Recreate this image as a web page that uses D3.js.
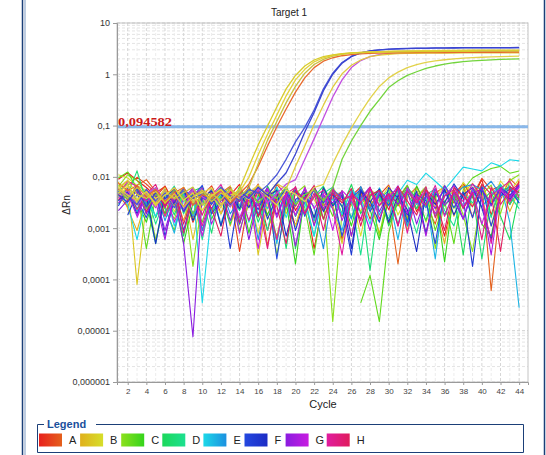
<!DOCTYPE html>
<html><head><meta charset="utf-8">
<script src="https://cdn.jsdelivr.net/npm/d3@7"></script>
<style>
html,body{margin:0;padding:0;background:#fff;}
svg{display:block;font-family:"Liberation Sans",Arial,sans-serif;}
</style></head>
<body>
<svg id="chart" width="546" height="455"></svg>
<script>
// ---------- DATA ----------
const cycles = [1,2,3,4,5,6,7,8,9,10,11,12,13,14,15,16,17,18,19,20,21,22,23,24,25,26,27,28,29,30,31,32,33,34,35,36,37,38,39,40,41,42,43,44];
const xTickLabels = [2,4,6,8,10,12,14,16,18,20,22,24,26,28,30,32,34,36,38,40,42,44];
const yTickValues = [10,1,0.1,0.01,0.001,0.0001,0.00001,0.000001];
const yTickLabels = ["10","1","0,1","0,01","0,001","0,0001","0,00001","0,000001"];
const threshold = 0.094582;
const thresholdLabel = "0,094582";
const legendWells = ["A","B","C","D","E","F","G","H"];

// noise (non-amplifying) wells
const nA1 = [.009,.012,.0085,.0062,.0041,.0066,.0028,.0047,.0013,.0035,.0058,.0019,.0044,.0071,.0026,.0052,.0009,.0038,.0061,.0022,.0046,.0004,.0033,.0055,.0017,.0042,.0064,.0027,.0049,.0012,.0036,.0068,.0021,.0053,.0031,.0007,.0045,.0074,.0039,.0088,.0018,.0062,.0034,.0079];
const nA2 = [null,.0068,.0098,.0072,.0049,.0065,.0033,.0056,.0016,.0043,.0067,.0028,.0051,.00035,.0039,.0062,.0024,.0071,.0045,.0011,.0037,.0058,.0022,.0048,.0006,.0034,.0053,.0015,.0044,.0069,.0027,.0057,.0036,.0008,.0049,.0063,.0031,.0076,.0042,.0094,.0055,.0067,.0029,.0085];
const nA3 = [.0045,.0026,.0069,.0088,.0052,.0019,.0063,.0037,.0057,.0009,.0031,.0048,.0066,.0023,.0041,.0072,.00045,.0035,.0054,.0017,.0043,.0061,.0028,.0039,.0052,.0007,.0046,.0025,.0058,.0034,.0002,.0041,.0063,.0029,.0012,.0055,.0038,.0067,.0016,.0073,.00006,.0036,.0092,.0061];
const nB1 = [.008,.0024,.0009,.0038,.0062,.0029,.0051,.0014,.0057,.0036,.0022,.0054,.0011,.0043,.0031,.0065,.0018,.0007,.0039,.0026,.0056,.0012,.0037,.0052,.0019,.0028,.0061,.0035,.0008,.0033,.0048,.0016,.0042,.0058,.0025,.0005,.0044,.0067,.0027,.0053,.0032,.0069,.0021,.0057];
const nB2 = [.0055,.0085,.00008,.0031,.0046,.0017,.0035,.0054,.0006,.0041,.0023,.0063,.0038,.0012,.0051,.0003,.0033,.0047,.0019,.0056,.0037,.0014,.0062,.0029,.0005,.0045,.0021,.0058,.0039,.0013,.0034,.0009,.0053,.0026,.0044,.0068,.0017,.0049,.0075,.0036,.0011,.0061,.0079,.0042];
const nB3 = [.011,.0095,.0068,.0053,.0032,.0061,.0021,.0045,.0014,.0052,.0038,.0019,.0066,.0027,.0048,.0008,.0043,.0059,.0025,.0011,.0054,.0036,.0015,.0063,.0031,.0046,.0007,.0051,.0034,.0065,.0018,.0042,.0057,.0013,.0039,.0062,.0024,.0078,.0047,.0069,.0029,.0083,.0051,.0092];
const nC1 = [.0065,.011,.0085,.0046,.0006,.0033,.0015,.0051,.00018,.0036,.0019,.0044,.0062,.0009,.0031,.0056,.0039,.0003,.0027,.0047,.0067,.0014,.0038,.000015,.0021,.0053,.0029,.0045,.0007,.0058,.0034,.0011,.0042,.0064,.0004,.0033,.0055,.0018,.00035,.0045,.0069,.0019,.0085,.011];
const nC2 = [.0095,.0125,.0058,.0004,.0042,.0024,.0009,.0047,.0032,.0013,.0056,.0011,.0041,.0027,.0068,.0016,.0049,.0006,.0036,.0061,.0025,.0003,.0045,.0017,.0055,null,.000035,.00012,.000015,.0008,.0039,.0068,.0024,.0051,.0009,.0034,.0005,.0056,.0095,.012,.0145,.016,.0118,.013];
const nC3 = [.004,.0062,.0034,.0013,.0052,.0019,.0044,.0005,.0031,.0057,.0015,.0038,.0026,.0064,.0008,.0045,.0018,.0054,.0033,.0002,.0047,.0016,.0061,.0029,.0042,.0011,.0056,.0023,.0006,.0039,.0052,.0014,.0067,.0028,.0046,.00022,.0051,.0025,.0043,.0012,.0007,.0053,.0062,.0036];
const nD1 = [.0052,.0073,.0029,.0058,.0016,.0044,.0033,.0007,.0053,.0063,.0021,.0042,.0012,.0057,.0037,.0018,.0066,.0028,.0046,.0004,.0035,.0054,.0015,.0048,.0026,.0071,.0019,.0041,.0057,.0011,.0032,.0062,.0039,.0014,.0058,.0027,.0045,.0003,.0063,.0034,.0052,.0017,.0006,.0046];
const nD2 = [.003,.0045,.0131,.0032,.0005,.0047,.0018,.0055,.0029,.0038,.0008,.0062,.0043,.0022,.0053,.0013,.0035,.0048,.0004,.0057,.0021,.0041,.0066,.0027,.0051,.0016,.0044,.00015,.0035,.0055,.0012,.0047,.0024,.0059,.0017,.0042,.0068,.0026,.0051,.00025,.0041,.0065,.0029,.0054];
const nD3 = [null,.0058,.0024,.0047,.0012,.0039,.0066,.0019,.0051,.0006,.0042,.0028,.0059,.0014,.0046,.0033,.0009,.0062,.0025,.0054,.0037,.0007,.0048,.0063,.0018,.0034,.0003,.0052,.0041,.0015,.0061,.0029,.0008,.0045,.0058,.0022,.0011,.0049,.0031,.0062,.0016,.0071,.0043,.0024];
const nE1 = [.0048,.0029,.0006,.0039,.0017,.0055,.0011,.0034,.0061,.000035,.0022,.0046,.0028,.0058,.0013,.0041,.0024,.0064,.0016,.0049,.0032,.0007,.0052,.0036,.0019,.0056,.0039,.0012,.0061,.0027,.0047,.0086,.0071,.0118,.0082,.0056,.0093,.0155,.0142,.0131,.0188,.0162,.0215,.0205];
const nE2 = [.0035,.0052,.0021,.0043,.0061,.0026,.0008,.0048,.0017,.0036,.0055,.0012,.0046,.0027,.0066,.0019,.0039,.0005,.0052,.0031,.0058,.0014,.0044,.0024,.0009,.0053,.0034,.0062,.0018,.0042,.0006,.0057,.0029,.0041,.00025,.0068,.0036,.0015,.0054,.0026,.0045,.0071,.0013,.000028];
const nE3 = [.006,.0038,.0067,.0029,.0051,.0014,.0045,.0023,.0058,.0009,.0041,.0064,.0019,.0037,.0053,.0006,.0047,.0031,.0061,.0017,.0043,.0026,.0004,.0057,.0039,.0015,.0065,.0024,.0049,.0033,.0055,.0011,.0043,.0025,.0059,.0018,.0045,.0063,.0071,.0056,.0082,.0044,.0067,.0031];
const nF1 = [.0027,.0062,.0036,.0016,.0047,.0026,.0056,.0009,.0041,.0068,.0019,.0034,.0053,.0012,.0045,.0023,.0058,.00025,.0038,.0055,.0017,.0063,.0031,.0049,.0007,.0039,.0057,.0021,.0044,.0028,.0061,.0013,.0046,.0034,.0005,.0056,.0025,.0051,.0016,.0066,.0011,.0042,.0058,.0031];
const nF2 = [null,.0018,.0047,.0024,.0054,.0007,.0036,.0061,.0019,.0045,.0029,.0057,.0004,.0048,.0025,.0064,.0015,.0042,.0052,.0009,.0035,.0059,.0021,.0046,.0027,.0003,.0055,.0033,.0013,.0062,.0038,.0018,.0053,.0008,.0047,.0031,.0073,.0039,.00018,.0056,.0029,.0061,.0044,.0069];
const nF3 = [.0034,.0051,.0019,.0043,.0005,.0047,.0031,.0058,.0014,.0039,.0053,.0011,.0046,.0024,.0064,.0017,.0042,.0055,.0007,.0036,.0049,.0016,.0061,.0027,.0045,.0004,.0052,.0032,.0058,.0013,.0044,.0023,.00035,.0049,.0029,.0057,.0018,.0045,.0062,.0025,.0006,.0051,.0037,.0066];
const nG1 = [.0022,.0035,.0052,.0019,.0045,.0009,.0039,.0005,.0000076,.0042,.0024,.0056,.0014,.0047,.0006,.0036,.0061,.0018,.0049,.0027,.0058,.0011,.0044,.0031,.0052,.0007,.0039,.0063,.0021,.0047,.0029,.0054,.0012,.0043,.0024,.0067,.0035,.0015,.0049,.0058,.0027,.0062,.0041,.0071];
const nG2 = [.0031,.0048,.0017,.0057,.0033,.0006,.0049,.0021,.0043,.0061,.0012,.0036,.0053,.0008,.0044,.0027,.0059,.0016,.0047,.00045,.0038,.0055,.0024,.0063,.0014,.0045,.0032,.0009,.0052,.0037,.0067,.0019,.0046,.0007,.0057,.0028,.0049,.0015,.0061,.0034,.0003,.0054,.0039,.0065];
const nG3 = [null,null,.0016,.0044,.0025,.0056,.0013,.0038,.0061,.0007,.0049,.0029,.0052,.0016,.0043,.0004,.0058,.0031,.0045,.0018,.0063,.0024,.0048,.0009,.0054,.0035,.0015,.0057,.0028,.0046,.0011,.0061,.0033,.0053,.0019,.0042,.0067,.0026,.0051,.0012,.0045,.0058,.0033,.0063];
const nH1 = [.0044,.0082,.0065,.0033,.0052,.0017,.0046,.0026,.0058,.0011,.0043,.0071,.0027,.0049,.0014,.0056,.0034,.0006,.0047,.0062,.0019,.0041,.0055,.0024,.0003,.0048,.0031,.0063,.0015,.0044,.0057,.0008,.0042,.0028,.0068,.0017,.0051,.0033,.0073,.0041,.0005,.0059,.0083,.0039];
const nH2 = [.0036,.0057,.0023,.0046,.0071,.0025,.0054,.0008,.0041,.0018,.0049,.0029,.0062,.0013,.0045,.0033,.0004,.0051,.0026,.0065,.0019,.0048,.0009,.0056,.0035,.0043,.0014,.0061,.0027,.0047,.0011,.0053,.0031,.0064,.0016,.0042,.0057,.0024,.0049,.0006,.0063,.0029,.0052,.0074];
const nH3 = [.0058,.0035,.0067,.0021,.0048,.0028,.0061,.0012,.0045,.0053,.0024,.0007,.0057,.0033,.0064,.0017,.0049,.0027,.0005,.0052,.0038,.0068,.0015,.0047,.0031,.0059,.0011,.0044,.0054,.0023,.0065,.0034,.0018,.0056,.0037,.0009,.0062,.0043,.0026,.0071,.0046,.00035,.0064,.0049];

// amplifying wells
const aB1 = [.0062,.0085,.0045,.0038,.0052,.0031,.0047,.0026,.0041,.0055,.0033,.0048,.0039,.0058,.016,.042,.098,.23,.52,.95,1.45,1.9,2.2,2.4,2.52,2.6,2.65,2.68,2.7,2.72,2.74,2.75,2.76,2.77,2.78,2.79,2.8,2.8,2.81,2.82,2.82,2.83,2.83,2.84];
const aB2 = [.0048,.0071,.0036,.0052,.0029,.0044,.0061,.0035,.0049,.0022,.0043,.0057,.0034,.0051,.0098,.027,.068,.16,.38,.78,1.25,1.75,2.1,2.35,2.5,2.6,2.68,2.73,2.77,2.8,2.82,2.84,2.86,2.88,2.9,2.91,2.92,2.93,2.94,2.95,2.95,2.96,2.96,2.97];
const aB3 = [.0056,.0039,.0062,.0045,.0031,.0054,.0037,.0049,.0063,.0028,.0046,.0035,.0058,.0042,.0061,.018,.052,.12,.28,.58,1.05,1.55,1.95,2.25,2.45,2.58,2.66,2.72,2.76,2.8,2.83,2.85,2.87,2.88,2.89,2.9,2.9,2.91,2.91,2.92,2.92,2.93,2.93,2.93];
const aA1 = [.0075,.0054,.0068,.0041,.0057,.0033,.0049,.0062,.0028,.0045,.0038,.0055,.0031,.0047,.0072,.016,.04,.095,.21,.45,.85,1.35,1.8,2.1,2.3,2.42,2.5,2.55,2.58,2.6,2.62,2.63,2.64,2.65,2.66,2.66,2.67,2.67,2.68,2.68,2.69,2.69,2.7,2.7];
const aF1 = [.0045,.0032,.0058,.0026,.0049,.0037,.0061,.0021,.0043,.0055,.0034,.0047,.0029,.0052,.0038,.0063,.0044,.0075,.012,.028,.075,.18,.48,1.0,1.65,2.2,2.6,2.85,3.0,3.1,3.15,3.2,3.22,3.25,3.26,3.28,3.29,3.3,3.3,3.31,3.31,3.32,3.32,3.33];
const aF2 = [.0052,.0041,.0029,.0056,.0034,.0048,.0025,.0059,.0038,.0046,.0031,.0062,.0043,.0035,.0057,.0048,.0069,.011,.022,.048,.092,.2,.52,1.05,1.7,2.25,2.62,2.85,2.98,3.06,3.12,3.16,3.19,3.21,3.23,3.24,3.25,3.26,3.27,3.28,3.28,3.29,3.29,3.3];
const aB4 = [.0061,.0044,.0035,.0052,.0027,.0048,.0039,.0063,.0031,.0054,.0042,.0025,.0057,.0036,.0049,.0068,.0045,.0074,.0058,.016,.04,.105,.25,.56,1.02,1.5,1.9,2.2,2.36,2.46,2.52,2.55,2.57,2.58,2.59,2.6,2.6,2.61,2.61,2.62,2.62,2.62,2.63,2.63];
const aG1 = [.0039,.0055,.0028,.0046,.0061,.0034,.0049,.0022,.0057,.0041,.0033,.0052,.0026,.0045,.0038,.0059,.0031,.0048,.0072,.0088,.022,.055,.14,.36,.78,1.35,1.85,2.2,2.42,2.55,2.62,2.66,2.69,2.71,2.72,2.73,2.74,2.75,2.75,2.76,2.76,2.77,2.77,2.78];
const aB5 = [.0042,.0064,.0031,.0053,.0038,.0047,.0026,.0058,.0035,.0049,.0061,.0029,.0044,.0053,.0036,.0067,.0041,.0028,.0055,.0046,.0033,.0062,.0071,.018,.042,.09,.18,.34,.58,.85,1.1,1.35,1.55,1.7,1.82,1.92,2.0,2.06,2.11,2.15,2.18,2.21,2.23,2.25];
const aC1 = [.0051,.0037,.0059,.0024,.0046,.0033,.0055,.0041,.0019,.0048,.0036,.0062,.0027,.0044,.0053,.0031,.0049,.0038,.0064,.0029,.0045,.0056,.0034,.0061,.022,.05,.1,.19,.32,.55,.75,.95,1.12,1.3,1.45,1.58,1.68,1.76,1.82,1.87,1.91,1.95,1.98,2.0];

const noiseSeries = [
  ["A",nA1],["A",nA2],["A",nA3],["B",nB1],["B",nB2],["B",nB3],["C",nC1],["C",nC2],["C",nC3],
  ["D",nD1],["D",nD2],["D",nD3],["E",nE1],["E",nE2],["E",nE3],["F",nF1],["F",nF2],["F",nF3],
  ["G",nG1],["G",nG2],["G",nG3],["H",nH1],["H",nH2],["H",nH3]
];
const ampSeries = [
  ["C",aC1,"#72d43c"],["B",aB5,"#e2d24a"],["G",aG1,"#c24ee0"],["B",aB4,"#e0cc40"],
  ["F",aF2,"#4a56d8"],["F",aF1,"#3a44d0"],["A",aA1,"#e86a2c"],["B",aB3,"#c8c040"],
  ["B",aB2,"#e4d23a"],["B",aB1,"#d8cc2c"]
];

// ---------- STYLE ----------
const gradients = {
  A:["#e8201c","#e4601c"], B:["#e0b01c","#d6de2a"], C:["#8ce01c","#34d41c"], D:["#1cd85a","#1ce090"],
  E:["#1cd8e8","#1c90e0"], F:["#2448e0","#1c2cc4"], G:["#8a1ce0","#c81ce0"], H:["#e01ca0","#e01c5c"]
};

const svg = d3.select("#chart");
const L=117, R=528, T=23, B=382;
const x = d3.scaleLinear().domain([0.85,44.95]).range([L,R]);
const y = d3.scaleLog().domain([1e-6,10]).range([B,T]);

// outer frame lines
svg.append("line").attr("x1",22.5).attr("x2",22.5).attr("y1",0).attr("y2",455).attr("stroke","#1b3f78").attr("stroke-width",1.5);
svg.append("line").attr("x1",25).attr("x2",25).attr("y1",0).attr("y2",455).attr("stroke","#7f9bc4").attr("stroke-width",1);
svg.append("line").attr("x1",544.5).attr("x2",544.5).attr("y1",0).attr("y2",455).attr("stroke","#1b3f78").attr("stroke-width",1.5);

// title
svg.append("text").attr("x",289).attr("y",16).attr("text-anchor","middle").attr("font-size",10).attr("fill","#222").text("Target 1");

// grid
const g = svg.append("g");
const minorY = [];
for (let e=-6;e<1;e++) for (let m=2;m<=9;m++) minorY.push(m*Math.pow(10,e));
g.selectAll(".my").data(minorY).join("line")
  .attr("x1",L).attr("x2",R).attr("y1",d=>y(d)).attr("y2",d=>y(d))
  .attr("stroke","#e4e4e4").attr("stroke-width",1).attr("stroke-dasharray","3,2");
g.selectAll(".My").data(yTickValues).join("line")
  .attr("x1",L).attr("x2",R).attr("y1",d=>y(d)).attr("y2",d=>y(d))
  .attr("stroke","#cfcfcf").attr("stroke-width",1).attr("stroke-dasharray","3,2");
g.selectAll(".vx").data(cycles).join("line")
  .attr("x1",d=>x(d)).attr("x2",d=>x(d)).attr("y1",T).attr("y2",B)
  .attr("stroke",d=>d%2===0?"#d6d6d6":"#ececec").attr("stroke-width",1).attr("stroke-dasharray","3,2");

// plot border
svg.append("rect").attr("x",L).attr("y",T).attr("width",R-L).attr("height",B-T)
  .attr("fill","none").attr("stroke","#c4c4c4");

// clip
svg.append("clipPath").attr("id","clip").append("rect").attr("x",L).attr("y",T).attr("width",R-L).attr("height",B-T);
const plot = svg.append("g").attr("clip-path","url(#clip)");

const line = d3.line()
  .defined(d=>d.v!=null && d.v>0)
  .x(d=>x(d.c)).y(d=>y(d.v));

function toPts(vals){ return cycles.map((c,i)=>({c:c,v:vals[i]})); }

// noise lines
const famCount = {};
noiseSeries.forEach(([w])=>{ famCount[w]=(famCount[w]||0)+1; });
const famIdx = {};
noiseSeries.forEach(([w,vals])=>{
  famIdx[w]=(famIdx[w]||0);
  const t = famCount[w]>1 ? famIdx[w]/(famCount[w]-1) : 0.5;
  famIdx[w]++;
  const col = d3.interpolateRgb(gradients[w][0],gradients[w][1])(t);
  plot.append("path").attr("d",line(toPts(vals))).attr("fill","none")
    .attr("stroke",col).attr("stroke-width",1.1).attr("stroke-linejoin","round");
});

// threshold
plot.append("line").attr("x1",L).attr("x2",R).attr("y1",y(threshold)).attr("y2",y(threshold))
  .attr("stroke","#8ab8ea").attr("stroke-width",3);

// amp lines
ampSeries.forEach(([w,vals,col])=>{
  plot.append("path").attr("d",line(toPts(vals))).attr("fill","none")
    .attr("stroke",col).attr("stroke-width",1.3).attr("stroke-linejoin","round");
});

// threshold label
svg.append("text").attr("x",118).attr("y",y(threshold)-1)
  .attr("font-family","'Liberation Serif','DejaVu Serif',serif").attr("font-weight","bold")
  .attr("font-size",13).attr("fill","#cc1a1a").attr("textLength",54).attr("lengthAdjust","spacingAndGlyphs")
  .text(thresholdLabel);

// axes
const yAxis = d3.axisLeft(y).tickValues(yTickValues).tickFormat((d,i)=>yTickLabels[i]).tickSize(4).tickPadding(3);
const ya = svg.append("g").attr("transform",`translate(${L},0)`).call(yAxis);
ya.select(".domain").attr("stroke","#9a9a9a");
ya.selectAll(".tick line").attr("stroke","#9a9a9a");
ya.selectAll("text").attr("font-size",9).attr("fill","#333").attr("font-family","'Liberation Sans',Arial,sans-serif");

const xAxis = d3.axisBottom(x).tickValues(xTickLabels).tickFormat(d=>d).tickSize(3).tickPadding(3);
const xa = svg.append("g").attr("transform",`translate(0,${B})`).call(xAxis);
xa.select(".domain").attr("stroke","#9a9a9a");
xa.selectAll(".tick line").attr("stroke","#9a9a9a");
xa.selectAll("text").attr("font-size",8).attr("fill","#444").attr("font-family","'Liberation Sans',Arial,sans-serif");

svg.append("text").attr("x",323).attr("y",408).attr("text-anchor","middle").attr("font-size",11).attr("fill","#222").text("Cycle");
svg.append("text").attr("transform","translate(70,205) rotate(-90)").attr("text-anchor","middle").attr("font-size",10).attr("fill","#222").text("ΔRn");

// legend
const lg = svg.append("g");
lg.append("path").attr("d","M44,424.5 H37.5 V452.5 H523.5 V424.5 H96")
  .attr("fill","none").attr("stroke","#1b3f78").attr("stroke-width",1);
lg.append("text").attr("x",47).attr("y",428).attr("font-size",11).attr("font-weight","bold").attr("fill","#1a4f9c").text("Legend");
const defs = svg.append("defs");
legendWells.forEach((w,i)=>{
  const gid="lgrad"+w;
  const lgd = defs.append("linearGradient").attr("id",gid).attr("x1","0").attr("x2","1").attr("y1","0").attr("y2","0");
  lgd.append("stop").attr("offset","0").attr("stop-color",gradients[w][0]);
  lgd.append("stop").attr("offset","1").attr("stop-color",gradients[w][1]);
  const sx = 39 + i*41.1;
  lg.append("rect").attr("x",sx).attr("y",433.5).attr("width",23).attr("height",13).attr("fill",`url(#${gid})`);
  lg.append("text").attr("x",sx+30).attr("y",444).attr("font-size",11).attr("fill","#222").text(w);
});
</script>
</body></html>
